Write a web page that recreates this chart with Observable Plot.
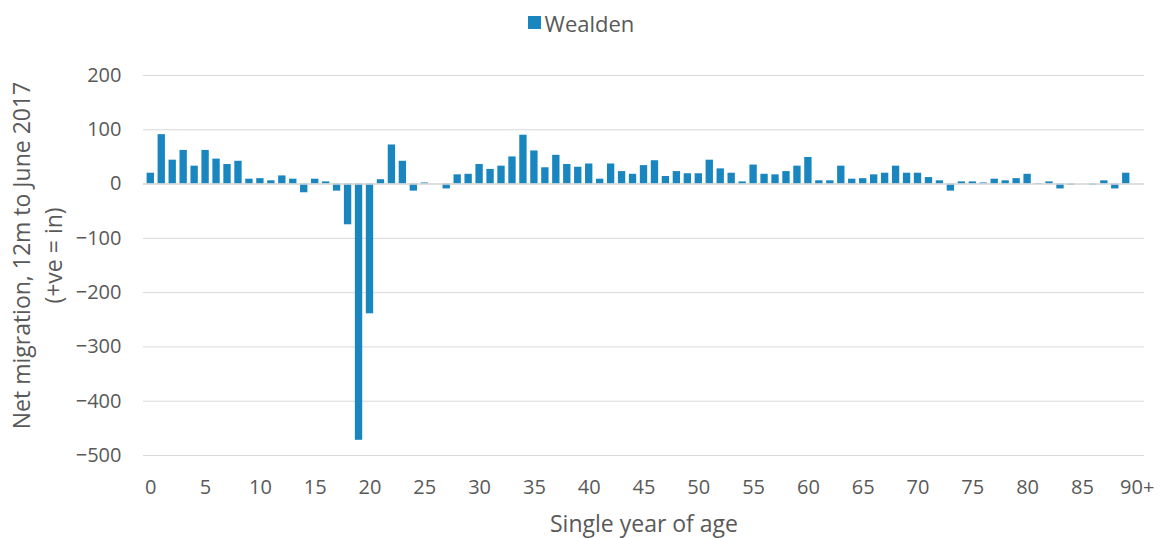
<!DOCTYPE html>
<html>
<head>
<meta charset="utf-8">
<script src="https://cdn.jsdelivr.net/npm/d3@7"></script>
<script src="https://cdn.jsdelivr.net/npm/@observablehq/plot@0.6"></script>
<style>
  html, body { margin: 0; padding: 0; background: #fff; }
  #wrap { width: 1162px; height: 538px; font-family: "Open Sans", sans-serif; color: #595959; }
  #legend { height: 45px; display: flex; align-items: center; justify-content: center; font-size: 22px; padding-left: 0px; box-sizing: border-box; }
  #legend .sw { width: 13px; height: 13px; background: #1a86bf; margin-right: 4px; }
  svg { display: block; }
</style>
</head>
<body>
<div id="wrap">
  <div id="legend"><span class="sw"></span><span>Wealden</span></div>
  <div id="chart"></div>
</div>
<script>
const ages = ["0","1","2","3","4","5","6","7","8","9",
  "10","11","12","13","14","15","16","17","18","19",
  "20","21","22","23","24","25","26","27","28","29",
  "30","31","32","33","34","35","36","37","38","39",
  "40","41","42","43","44","45","46","47","48","49",
  "50","51","52","53","54","55","56","57","58","59",
  "60","61","62","63","64","65","66","67","68","69",
  "70","71","72","73","74","75","76","77","78","79",
  "80","81","82","83","84","85","86","87","88","89","90+"];

const netMigration = [20, 91, 44, 62, 33, 62, 46, 36, 42, 9,
  10, 6, 15, 9, -16, 9, 4, -13, -75, -472,
  -239, 8, 72, 42, -13, 2, 0, -9, 17, 18,
  36, 27, 33, 50, 90, 61, 30, 53, 36, 31,
  37, 9, 37, 23, 18, 34, 43, 14, 23, 19,
  19, 44, 28, 20, 4, 35, 18, 17, 23, 33,
  49, 6, 6, 33, 9, 10, 17, 20, 33, 20,
  20, 12, 6, -13, 4, 4, 2, 9, 6, 10,
  18, 1, 4, -9, -2, 0, -2, 6, -9, 20, 0];

const xTickLabels = ["0","5","10","15","20","25","30","35","40","45","50","55","60","65","70","75","80","85","90+"];
const yTicks = [200, 100, 0, -100, -200, -300, -400, -500];

const seriesName = "Wealden";
const yTitle = "Net migration, 12m to June 2017\n(+ve = in)";
const xTitle = "Single year of age";

const data = ages.map((age, i) => ({age, value: netMigration[i]}));

const chart = Plot.plot({
  width: 1162,
  height: 493,
  marginTop: 30,
  marginBottom: 83,
  marginLeft: 143,
  marginRight: 18,
  style: {fontFamily: "Open Sans", fontSize: "20px", color: "#595959", background: "white", overflow: "visible"},
  x: {domain: ages, padding: 0.33, label: null},
  y: {domain: [-500, 200], label: null},
  marks: [
    Plot.gridY(yTicks, {stroke: "#d9d9d9", strokeOpacity: 1, strokeWidth: 1}),
    Plot.barY(data, {x: "age", y: "value", fill: "#1a86bf"}),
    Plot.ruleY([0], {stroke: "#d9d9d9", strokeWidth: 1.5}),
    Plot.axisY(yTicks, {tickSize: 0, tickPadding: 22, fill: "#595959",
      label: yTitle, labelAnchor: "center", labelOffset: 130, labelArrow: "none"}),
    Plot.axisX(xTickLabels, {tickSize: 0, tickPadding: 24, fill: "#595959",
      label: xTitle, labelAnchor: "center", labelOffset: 76, labelArrow: "none"})
  ]
});
document.getElementById("chart").appendChild(chart);
const svg = d3.select(chart);
svg.selectAll('[aria-label="y-axis label"] text, [aria-label="x-axis label"] text')
  .attr("font-size", 23);
// widen the line spacing of the two-line y title
svg.selectAll('[aria-label="y-axis label"] text tspan').each(function(d, i) {
  if (i > 0) d3.select(this).attr("dy", "1.4em");
});
const yl = svg.select('[aria-label="y-axis label"]');
const prev = yl.attr("transform") || "";
yl.attr("transform", (prev + " translate(0,-10)").trim());
</script>
</body>
</html>
